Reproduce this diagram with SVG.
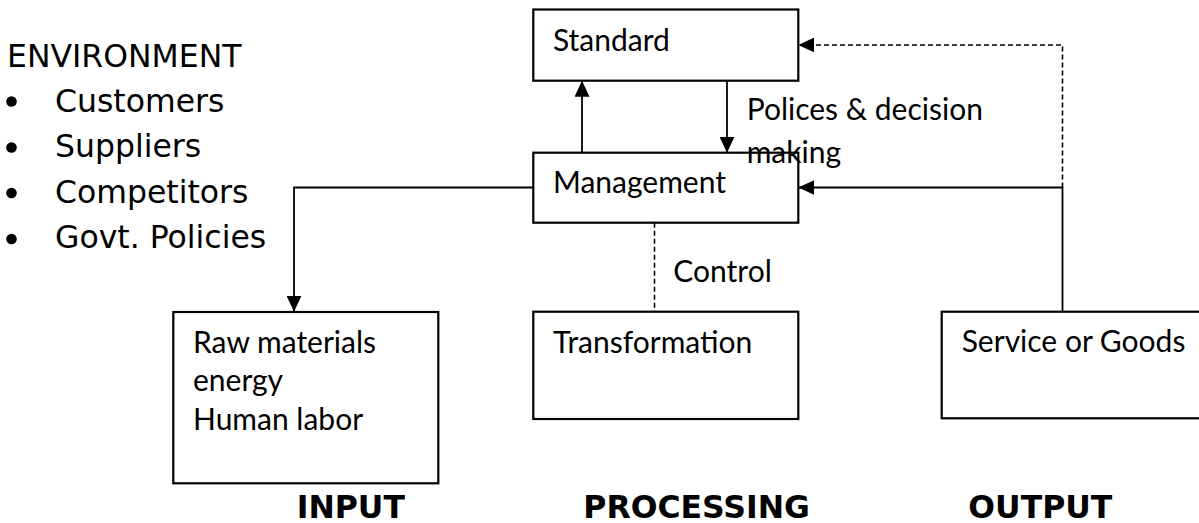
<svg xmlns="http://www.w3.org/2000/svg" width="1199" height="523" viewBox="0 0 1199 523">
  <style>
    .box { fill: #ffffff; stroke: #000000; stroke-width: 2.2; }
    .lbl { font-family: Lato, "Liberation Sans", sans-serif; font-size: 30px; fill: #000000; }
    .env { font-family: "DejaVu Sans", sans-serif; font-size: 31.5px; fill: #000000; }
    .bullet { fill: #000000; }
    .stage { font-family: "DejaVu Sans", sans-serif; font-size: 31.5px; font-weight: bold; fill: #000000; }
    .line { fill: none; stroke: #000000; stroke-width: 1.8; }
    .dash { fill: none; stroke: #000000; stroke-width: 1.6; stroke-dasharray: 5 3; }
  </style>
  <defs>
    <marker id="arrow" markerUnits="userSpaceOnUse" markerWidth="16" markerHeight="15" refX="16" refY="7.5" orient="auto">
      <path d="M0,0 L16,7.5 L0,15 Z" fill="#000000"/>
    </marker>
  </defs>

  <rect width="1199" height="523" fill="#ffffff"/>

  <!-- environment list -->
  <g id="environment">
    <text class="env" x="7" y="67">ENVIRONMENT</text>
    <circle class="bullet" cx="11.5" cy="101.5" r="5.3"/>
    <text class="env" x="55" y="111.5">Customers</text>
    <circle class="bullet" cx="11.5" cy="147.5" r="5.3"/>
    <text class="env" x="55" y="157">Suppliers</text>
    <circle class="bullet" cx="11.5" cy="193" r="5.3"/>
    <text class="env" x="55" y="202.5">Competitors</text>
    <circle class="bullet" cx="11.5" cy="239" r="5.3"/>
    <text class="env" x="55" y="248">Govt. Policies</text>
  </g>

  <!-- connectors -->
  <g id="connectors">
    <path class="line" d="M582,152.7 V80.7" marker-end="url(#arrow)"/>
    <path class="line" d="M727,80.7 V152.7" marker-end="url(#arrow)"/>
    <path class="line" d="M533.3,187.5 H294 V311.7" marker-end="url(#arrow)"/>
    <path class="line" d="M1062.5,311.7 V187.5 H798.3" marker-end="url(#arrow)"/>
    <path class="dash" d="M1062.5,187.5 V45 H798.3" marker-end="url(#arrow)"/>
    <path class="dash" d="M654.5,222.7 V311.7"/>
  </g>

  <g id="standard">
    <rect class="box" x="533.3" y="9.5" width="265" height="71.2"/>
    <text class="lbl" x="553" y="51">Standard</text>
  </g>

  <g id="management">
    <rect class="box" x="533.3" y="152.7" width="265" height="70"/>
    <text class="lbl" x="553" y="193">Management</text>
  </g>

  <g id="transformation">
    <rect class="box" x="533.3" y="311.7" width="265" height="107.3"/>
    <text class="lbl" x="553" y="352.7">Transformation</text>
  </g>

  <g id="raw-materials">
    <rect class="box" x="173.3" y="312" width="265" height="171.3"/>
    <text class="lbl" x="193" y="352.7">Raw materials</text>
    <text class="lbl" x="193" y="391">energy</text>
    <text class="lbl" x="193" y="430">Human labor</text>
  </g>

  <g id="service-goods">
    <rect class="box" x="941.7" y="311.7" width="270" height="106.6"/>
    <text class="lbl" x="961.7" y="351.7">Service or Goods</text>
  </g>

  <!-- connector labels -->
  <g id="labels">
    <text class="lbl" x="746.7" y="120">Polices &amp; decision</text>
    <text class="lbl" x="746.7" y="163">making</text>
    <text class="lbl" x="673.3" y="281.7">Control</text>
  </g>

  <!-- stage captions -->
  <g id="stages">
    <text class="stage" x="296.7" y="518">INPUT</text>
    <text class="stage" x="583.3" y="518">PROCESSING</text>
    <text class="stage" x="968.3" y="518">OUTPUT</text>
  </g>
</svg>
